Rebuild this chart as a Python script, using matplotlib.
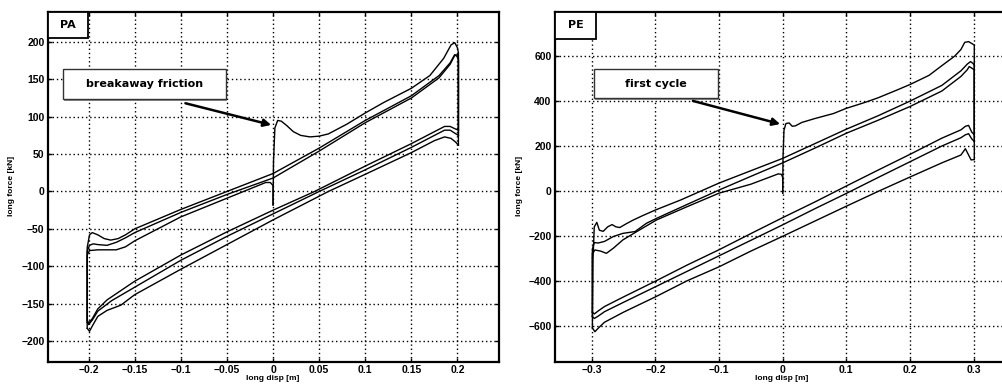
import matplotlib
matplotlib.use("Agg")
import matplotlib.pyplot as plt
from matplotlib.patches import Rectangle

# ---------------- PA panel data (long disp [m], long force [kN]) ----------------
pa_first_x = [0.0, 0.0005, 0.002, 0.005, 0.009, 0.015, 0.022, 0.03, 0.04, 0.05, 0.06, 0.08, 0.1, 0.12,
              0.15, 0.17, 0.185, 0.193, 0.197, 0.2, 0.201, 0.201]
pa_first_y = [-18, 40, 85, 95, 94, 88, 80, 75, 73, 74, 77, 90, 105, 119, 138, 155, 178, 196, 199, 192, 185, 62]

pa_unload1_x = [0.201, 0.198, 0.193, 0.186, 0.175, 0.15, 0.1, 0.06, 0.0, -0.05, -0.1, -0.15, -0.165, -0.18,
                -0.19, -0.196, -0.199, -0.2015]
pa_unload1_y = [62, 66, 71, 73, 68, 52, 23, 0, -38, -71, -104, -138, -152, -159, -167, -180, -187, -183]

pa_load1_x = [-0.2015, -0.2015, -0.199, -0.196, -0.19, -0.183, -0.176, -0.168, -0.16, -0.15, -0.1, -0.05,
              0.0, 0.05, 0.1, 0.15, 0.18, 0.192, 0.197, 0.2, 0.201, 0.201]
pa_load1_y = [-183, -75, -58, -55, -58, -63, -65, -63, -58, -50, -24, 0, 24, 58, 95, 128, 155, 172, 183,
              180, 175, 82]

pa_unload2_x = [0.201, 0.197, 0.192, 0.186, 0.175, 0.15, 0.1, 0.045, 0.0, -0.05, -0.1, -0.15, -0.18, -0.19,
                -0.196, -0.2, -0.2015]
pa_unload2_y = [82, 84, 87, 87, 80, 64, 34, 0, -25, -54, -85, -120, -145, -157, -170, -176, -172]

pa_load2_x = [-0.2015, -0.2015, -0.199, -0.195, -0.19, -0.18, -0.17, -0.16, -0.15, -0.1, -0.05, 0.0, 0.05,
              0.1, 0.15, 0.18, 0.192, 0.197, 0.2, 0.201, 0.201]
pa_load2_y = [-172, -80, -72, -70, -71, -72, -68, -62, -55, -28, -4, 18, 54, 92, 125, 152, 170, 182, 183,
              178, 75]

pa_unload3_x = [0.201, 0.197, 0.192, 0.186, 0.175, 0.15, 0.1, 0.05, 0.0, -0.05, -0.1, -0.15, -0.175, -0.19,
                -0.196, -0.2, -0.2015]
pa_unload3_y = [75, 78, 82, 82, 75, 59, 29, 0, -30, -60, -92, -128, -146, -160, -172, -178, -175]

pa_load3_x = [-0.2015, -0.2015, -0.199, -0.19, -0.18, -0.17, -0.16, -0.15, -0.1, -0.05, -0.02, -0.008,
              -0.003, 0.0, 0.0]
pa_load3_y = [-175, -85, -79, -78, -78, -78, -74, -66, -34, -9, 6, 12, 12, 8, -18]

# ---------------- PE panel data ----------------
pe_first_x = [0.0, 0.0005, 0.002, 0.005, 0.01, 0.015, 0.02, 0.03, 0.05, 0.08, 0.1, 0.13, 0.15, 0.18, 0.2,
              0.23, 0.25, 0.27, 0.28, 0.286, 0.292, 0.298, 0.301, 0.301]
pe_first_y = [-10, 150, 270, 300, 303, 288, 290, 305, 322, 345, 368, 395, 415, 450, 474, 515, 558, 600,
              630, 662, 665, 655, 650, 140]

pe_unload1_x = [0.301, 0.296, 0.292, 0.287, 0.28, 0.25, 0.2, 0.15, 0.1, 0.05, 0.0, -0.05, -0.1, -0.15,
                -0.2, -0.25, -0.28, -0.29, -0.295, -0.299]
pe_unload1_y = [140, 138, 160, 188, 160, 125, 62, -2, -68, -135, -202, -268, -338, -400, -472, -540,
                -585, -612, -627, -610]

pe_load1_x = [-0.299, -0.298, -0.296, -0.292, -0.288, -0.282, -0.275, -0.268, -0.262, -0.256, -0.245,
              -0.235, -0.22, -0.2, -0.16, -0.1, -0.05, 0.0, 0.05, 0.1, 0.15, 0.2, 0.25, 0.28, 0.29, 0.295,
              0.299, 0.301, 0.301]
pe_load1_y = [-610, -300, -160, -140, -175, -180, -160, -150, -160, -163, -145, -130, -110, -85, -40, 35,
              90, 145, 210, 275, 335, 400, 470, 535, 565, 576, 568, 560, 250]

pe_unload2_x = [0.301, 0.297, 0.292, 0.287, 0.28, 0.25, 0.2, 0.15, 0.1, 0.05, 0.0, -0.05, -0.1, -0.15,
                -0.2, -0.25, -0.28, -0.29, -0.296, -0.299]
pe_unload2_y = [250, 262, 292, 288, 272, 235, 163, 93, 22, -50, -119, -190, -262, -330, -402, -472, -515,
                -535, -548, -540]

pe_load2_x = [-0.299, -0.299, -0.296, -0.29, -0.28, -0.266, -0.251, -0.232, -0.214, -0.198, -0.15, -0.1,
              -0.05, 0.0, 0.05, 0.1, 0.15, 0.2, 0.25, 0.28, 0.29, 0.293, 0.298, 0.301, 0.301]
pe_load2_y = [-540, -260, -230, -232, -225, -203, -189, -181, -144, -122, -60, 4, 65, 125, 190, 257, 315,
              376, 445, 510, 540, 554, 545, 540, 220]

pe_unload3_x = [0.301, 0.297, 0.292, 0.287, 0.28, 0.25, 0.2, 0.15, 0.1, 0.05, 0.0, -0.05, -0.1, -0.15,
                -0.2, -0.25, -0.28, -0.29, -0.296, -0.299]
pe_unload3_y = [220, 232, 255, 250, 237, 200, 130, 60, -11, -80, -151, -220, -289, -358, -427, -496, -538,
                -558, -568, -560]

pe_load3_x = [-0.299, -0.299, -0.295, -0.286, -0.277, -0.266, -0.251, -0.225, -0.198, -0.15, -0.1, -0.05,
              -0.02, -0.007, -0.002, 0.0, 0.0]
pe_load3_y = [-560, -280, -263, -268, -278, -255, -218, -174, -129, -70, -10, 30, 62, 76, 74, 60, -10]

# ---------------- ticks & labels ----------------
pa_xticks = [-0.2, -0.15, -0.1, -0.05, 0.0, 0.05, 0.1, 0.15, 0.2]
pa_xticklabels = ['\u22120.2', '\u22120.15', '\u22120.1', '\u22120.05', '0', '0.05', '0.1', '0.15', '0.2']
pa_yticks = [-200, -150, -100, -50, 0, 50, 100, 150, 200]
pa_yticklabels = ['\u2212200', '\u2212150', '\u2212100', '\u221250', '0', '50', '100', '150', '200']
pe_xticks = [-0.3, -0.2, -0.1, 0.0, 0.1, 0.2, 0.3]
pe_xticklabels = ['\u22120.3', '\u22120.2', '\u22120.1', '0', '0.1', '0.2', '0.3']
pe_yticks = [-600, -400, -200, 0, 200, 400, 600]
pe_yticklabels = ['\u2212600', '\u2212400', '\u2212200', '0', '200', '400', '600']

x_label = 'long disp [m]'
y_label = 'long force [kN]'

W, H = 1003, 385
fig = plt.figure(figsize=(W / 100, H / 100), dpi=100)
fig.patch.set_facecolor('white')

ax1 = fig.add_axes([48 / W, 23 / H, 451 / W, 350 / H])
ax2 = fig.add_axes([555 / W, 23 / H, 455.4 / W, 350 / H])

FONT = 'Liberation Sans'


def style(ax, xt, xtl, yt, ytl, xlim, ylim):
    ax.set_xlim(*xlim)
    ax.set_ylim(*ylim)
    ax.set_xticks(xt)
    ax.set_xticklabels(xtl, fontfamily=FONT, fontweight='bold', fontsize=7.5)
    ax.set_yticks(yt)
    ax.set_yticklabels(ytl, fontfamily=FONT, fontweight='bold', fontsize=7.5)
    ax.tick_params(direction='in', length=3, width=1, top=True, right=True, pad=2.5, colors='k')
    ax.grid(True, color='k', linestyle=(0, (1, 2)), linewidth=1.0)
    ax.set_axisbelow(True)
    for s in ax.spines.values():
        s.set_linewidth(1.6)
        s.set_color('k')


style(ax1, pa_xticks, pa_xticklabels, pa_yticks, pa_yticklabels, (-0.244, 0.245), (-228, 240))
style(ax2, pe_xticks, pe_xticklabels, pe_yticks, pe_yticklabels, (-0.3577, 0.3577), (-762, 797))

lw = 1.0
for xs, ys in [(pa_first_x, pa_first_y), (pa_unload1_x, pa_unload1_y), (pa_load1_x, pa_load1_y),
               (pa_unload2_x, pa_unload2_y), (pa_load2_x, pa_load2_y), (pa_unload3_x, pa_unload3_y),
               (pa_load3_x, pa_load3_y)]:
    ax1.plot(xs, ys, color='k', lw=lw, solid_joinstyle='round')
for xs, ys in [(pe_first_x, pe_first_y), (pe_unload1_x, pe_unload1_y), (pe_load1_x, pe_load1_y),
               (pe_unload2_x, pe_unload2_y), (pe_load2_x, pe_load2_y), (pe_unload3_x, pe_unload3_y),
               (pe_load3_x, pe_load3_y)]:
    ax2.plot(xs, ys, color='k', lw=lw, solid_joinstyle='round')


def corner_box(ax, text, w, h):
    ax.add_patch(Rectangle((0, 1 - h), w, h, transform=ax.transAxes, facecolor='white',
                           edgecolor='k', lw=1.3, zorder=5, clip_on=False))
    ax.text(w / 2, 1 - h / 2, text, transform=ax.transAxes, ha='center', va='center',
            fontfamily='DejaVu Sans', fontweight='bold', fontsize=8, zorder=6)


corner_box(ax1, 'PA', 40 / 451, 26 / 350)
corner_box(ax2, 'PE', 41 / 455.4, 27 / 350)


def note_box(ax, text, x0, x1, y0, y1):
    ax.add_patch(Rectangle((x0 + 0.003, y0 - 0.006), x1 - x0, y1 - y0, transform=ax.transAxes,
                           facecolor='0.55', edgecolor='none', zorder=5))
    ax.add_patch(Rectangle((x0, y0), x1 - x0, y1 - y0, transform=ax.transAxes, facecolor='white',
                           edgecolor='0.2', lw=1.0, zorder=6))
    ax.text((x0 + x1) / 2, (y0 + y1) / 2, text, transform=ax.transAxes, ha='center', va='center',
            fontfamily='DejaVu Sans', fontweight='bold', fontsize=8, zorder=7)


note_box(ax1, 'breakaway friction', 0.033, 0.395, 0.751, 0.837)
note_box(ax2, 'first cycle', 0.0856, 0.358, 0.754, 0.837)

arrow = dict(arrowstyle='-|>', color='k', lw=1.8, mutation_scale=11, shrinkA=0, shrinkB=0)
ax1.annotate('', xy=(-0.002, 89), xytext=(-0.095, 118), arrowprops=arrow, zorder=8)
ax2.annotate('', xy=(-0.004, 298), xytext=(-0.141, 401), arrowprops=arrow, zorder=8)

for cx in (273, 782):
    fig.text(cx / W, 1 - 378 / H, x_label, ha='center', va='center', fontfamily=FONT,
             fontweight='bold', fontsize=6)
for cx in (12, 520):
    fig.text(cx / W, 1 - 186 / H, y_label, ha='center', va='center', rotation=90, fontfamily=FONT,
             fontweight='bold', fontsize=6)

fig.savefig('out.png', dpi=100, facecolor='white')
